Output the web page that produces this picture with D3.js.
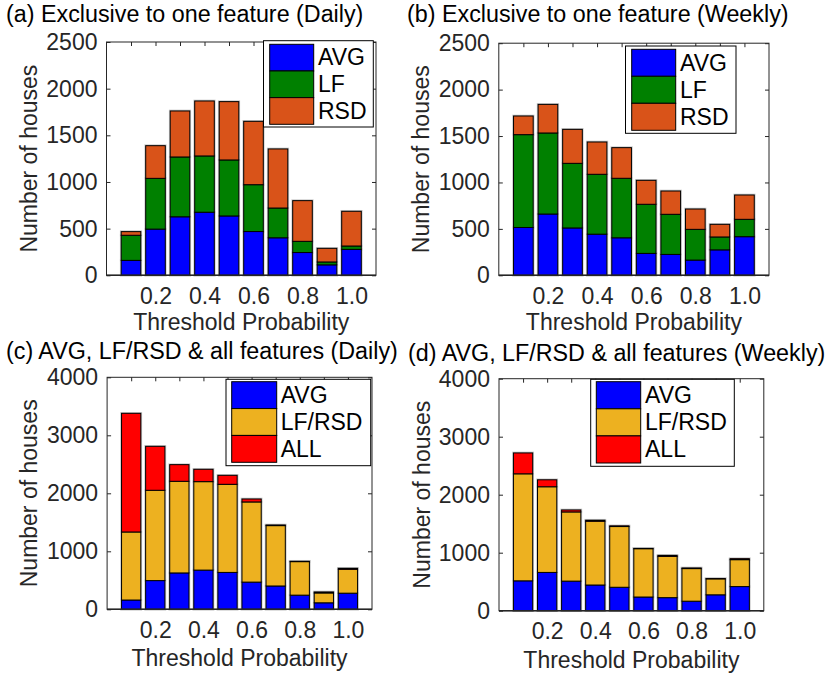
<!DOCTYPE html>
<html>
<head>
<meta charset="utf-8">
<script src="https://cdn.jsdelivr.net/npm/d3@7"></script>
<style>
  html, body { margin: 0; padding: 0; background: #fff; }
  svg { display: block; }
  text { font-family: "Liberation Sans", Arial, Helvetica, sans-serif; }
</style>
</head>
<body>
<svg id="chart" width="833" height="676"></svg>
<script>
// ---------- DATA ----------
const thresholds = [0.1, 0.2, 0.3, 0.4, 0.5, 0.6, 0.7, 0.8, 0.9, 1.0];
const xTickValues = [0.2, 0.4, 0.6, 0.8, 1.0];
const xTickLabels = ["0.2", "0.4", "0.6", "0.8", "1.0"];
const yTicksTop = [0, 500, 1000, 1500, 2000, 2500];
const yTicksBottom = [0, 1000, 2000, 3000, 4000];

// (a) Exclusive to one feature (Daily) – segment heights
const avgDaily = [160, 495, 627, 676, 636, 469, 402, 244, 112, 278];
const lfDaily  = [269, 544, 641, 603, 600, 502, 319, 120, 31, 36];
const rsdDaily = [39, 350, 493, 589, 625, 679, 633, 436, 146, 372];

// (b) Exclusive to one feature (Weekly)
const avgWeekly = [515, 660, 510, 443, 404, 236, 225, 164, 274, 416];
const lfWeekly  = [1000, 873, 696, 645, 641, 529, 432, 331, 139, 187];
const rsdWeekly = [201, 308, 366, 348, 330, 258, 251, 219, 136, 262];

// (c) AVG, LF/RSD & all features (Daily)
const lfrsdDaily = [1173, 1557, 1580, 1525, 1519, 1382, 1041, 578, 170, 412];
const allDaily   = [2046, 758, 287, 213, 155, 51, 11, 6, 17, 17];

// (d) AVG, LF/RSD & all features (Weekly)
const lfrsdWeekly = [1845, 1477, 1193, 1100, 1047, 833, 712, 562, 275, 464];
const allWeekly   = [360, 120, 34, 17, 12, 5, 17, 11, 5, 17];

const seriesNamesTop = ["AVG", "LF", "RSD"];
const seriesNamesBottom = ["AVG", "LF/RSD", "ALL"];
const colorsTop = ["#0000FF", "#008000", "#D95319"];
const colorsBottom = ["#0000FF", "#EDB120", "#FF0000"];

// ---------- DRAW ----------
const svg = d3.select("#chart");
const AX = "#262626";
const FS = 23;

function drawPanel(p) {
  const g = svg.append("g");
  const x = d3.scaleLinear().domain([0, 1.1]).range([p.left, p.right]);
  const y = d3.scaleLinear().domain([0, p.yMax]).range([p.bottom, p.top]);

  const rows = thresholds.map((t, i) => {
    const o = { t: t };
    p.names.forEach((n, k) => { o[n] = p.series[k][i]; });
    return o;
  });
  const stacked = d3.stack().keys(p.names)(rows);

  // bar halos (soft grey edge, as in the reference raster)
  stacked.forEach((layer) => {
    g.append("g").selectAll("rect").data(layer).join("rect")
      .attr("x", d => x(d.data.t - 0.04))
      .attr("width", d => x(d.data.t + 0.04) - x(d.data.t - 0.04))
      .attr("y", d => y(d[1]))
      .attr("height", d => Math.max(0, y(d[0]) - y(d[1])))
      .attr("fill", "none")
      .attr("stroke", "#c8c8c8")
      .attr("stroke-width", 2.6);
  });
  // bars
  stacked.forEach((layer, k) => {
    g.append("g").selectAll("rect").data(layer).join("rect")
      .attr("x", d => x(d.data.t - 0.04))
      .attr("width", d => x(d.data.t + 0.04) - x(d.data.t - 0.04))
      .attr("y", d => y(d[1]))
      .attr("height", d => Math.max(0, y(d[0]) - y(d[1])))
      .attr("fill", p.colors[k])
      .attr("stroke", "#000")
      .attr("stroke-width", 1);
  });

  // box
  g.append("rect")
    .attr("x", p.left).attr("y", p.top)
    .attr("width", p.right - p.left).attr("height", p.bottom - p.top)
    .attr("fill", "none").attr("stroke", AX).attr("stroke-width", 1);
  g.append("line")
    .attr("x1", p.left).attr("x2", p.right)
    .attr("y1", p.bottom).attr("y2", p.bottom)
    .attr("stroke", AX).attr("stroke-width", 1.6);

  // y axis (left, inward ticks) and right ticks
  const yAxisL = d3.axisLeft(y).tickValues(p.yTicks).tickSize(-4).tickPadding(9)
    .tickFormat(d3.format("d"));
  const gl = g.append("g").attr("transform", `translate(${p.left},0)`).call(yAxisL);
  gl.select(".domain").remove();
  gl.selectAll(".tick line").attr("stroke", AX);
  gl.selectAll(".tick text").attr("fill", AX).style("font-size", FS + "px");

  const yAxisR = d3.axisRight(y).tickValues(p.yTicks).tickSize(-4).tickFormat("");
  const gr = g.append("g").attr("transform", `translate(${p.right},0)`).call(yAxisR);
  gr.select(".domain").remove();
  gr.selectAll(".tick line").attr("stroke", AX);

  // x axis top ticks (inward)
  const xAxisT = d3.axisTop(x).tickValues(thresholds).tickSize(-4).tickFormat("");
  const gt = g.append("g").attr("transform", `translate(0,${p.top})`).call(xAxisT);
  gt.select(".domain").remove();
  gt.selectAll(".tick line").attr("stroke", AX);

  // x axis bottom labels
  const xAxisB = d3.axisBottom(x).tickValues(xTickValues).tickSize(0).tickPadding(0)
    .tickFormat((d, i) => xTickLabels[i]);
  const gb = g.append("g").attr("transform", `translate(0,${p.bottom})`).call(xAxisB);
  gb.select(".domain").remove();
  gb.selectAll(".tick text")
    .attr("fill", AX).style("font-size", FS + "px")
    .attr("dy", null).attr("y", p.xTickBase - p.bottom);

  // x label
  g.append("text")
    .attr("x", (p.left + p.right) / 2).attr("y", p.xLabelBase)
    .attr("text-anchor", "middle").attr("fill", AX)
    .style("font-size", FS + "px")
    .text("Threshold Probability");

  // y label
  g.append("text")
    .attr("transform", `translate(${p.yLabelX},${(p.top + p.bottom) / 2}) rotate(-90)`)
    .attr("text-anchor", "middle").attr("fill", AX)
    .style("font-size", FS + "px")
    .text("Number of houses");

  // title
  g.append("text")
    .attr("x", p.titleX).attr("y", p.titleY)
    .attr("fill", "#000")
    .style("font-size", "23.3px")
    .text(p.title);

  // legend
  const L = p.legend;
  g.append("rect")
    .attr("x", L.x0).attr("y", L.y0)
    .attr("width", L.x1 - L.x0).attr("height", L.y1 - L.y0)
    .attr("fill", "#fff").attr("stroke", "#000").attr("stroke-width", 1);
  const rowH = (L.sy1 - L.sy0) / p.names.length;
  p.names.forEach((n, k) => {
    g.append("rect")
      .attr("x", L.sx0).attr("y", L.sy0 + k * rowH)
      .attr("width", L.sx1 - L.sx0).attr("height", rowH)
      .attr("fill", p.colors[k]).attr("stroke", "#000").attr("stroke-width", 1);
    g.append("text")
      .attr("x", L.tx).attr("y", L.sy0 + k * rowH + rowH / 2)
      .attr("dy", "0.34em")
      .attr("fill", "#000")
      .style("font-size", FS + "px")
      .text(n);
  });
}

drawPanel({
  title: "(a) Exclusive to one feature (Daily)", titleX: 6, titleY: 22,
  left: 106.5, right: 376, top: 42, bottom: 275.3, yMax: 2500, yTicks: yTicksTop,
  xTickBase: 304.5, xLabelBase: 330, yLabelX: 36.5,
  names: seriesNamesTop, colors: colorsTop, series: [avgDaily, lfDaily, rsdDaily],
  legend: { x0: 263.5, x1: 373.3, y0: 40.7, y1: 127, sx0: 269.7, sx1: 313.7, sy0: 44.3, sy1: 124.3, tx: 318 }
});

drawPanel({
  title: "(b) Exclusive to one feature (Weekly)", titleX: 407, titleY: 22,
  left: 498.8, right: 769, top: 43.2, bottom: 275.3, yMax: 2500, yTicks: yTicksTop,
  xTickBase: 304.5, xLabelBase: 330, yLabelX: 429.3,
  names: seriesNamesTop, colors: colorsTop, series: [avgWeekly, lfWeekly, rsdWeekly],
  legend: { x0: 625.5, x1: 736, y0: 46, y1: 133.3, sx0: 631.7, sx1: 675.7, sy0: 49.3, sy1: 130.3, tx: 680 }
});

drawPanel({
  title: "(c) AVG, LF/RSD & all features (Daily)", titleX: 6, titleY: 359,
  left: 107.1, right: 372, top: 377.3, bottom: 609.3, yMax: 4000, yTicks: yTicksBottom,
  xTickBase: 638, xLabelBase: 666, yLabelX: 36.5,
  names: seriesNamesBottom, colors: colorsBottom, series: [avgDaily, lfrsdDaily, allDaily],
  legend: { x0: 226, x1: 370.7, y0: 379.3, y1: 465.7, sx0: 231.7, sx1: 276.7, sy0: 381.7, sy1: 462.3, tx: 280.7 }
});

drawPanel({
  title: "(d) AVG, LF/RSD & all features (Weekly)", titleX: 408, titleY: 361,
  left: 499, right: 763.8, top: 378.7, bottom: 610.7, yMax: 4000, yTicks: yTicksBottom,
  xTickBase: 639.5, xLabelBase: 667.5, yLabelX: 430,
  names: seriesNamesBottom, colors: colorsBottom, series: [avgWeekly, lfrsdWeekly, allWeekly],
  legend: { x0: 590.7, x1: 734.3, y0: 379.3, y1: 466.3, sx0: 596.3, sx1: 640.7, sy0: 381.7, sy1: 463, tx: 645 }
});
</script>
</body>
</html>
